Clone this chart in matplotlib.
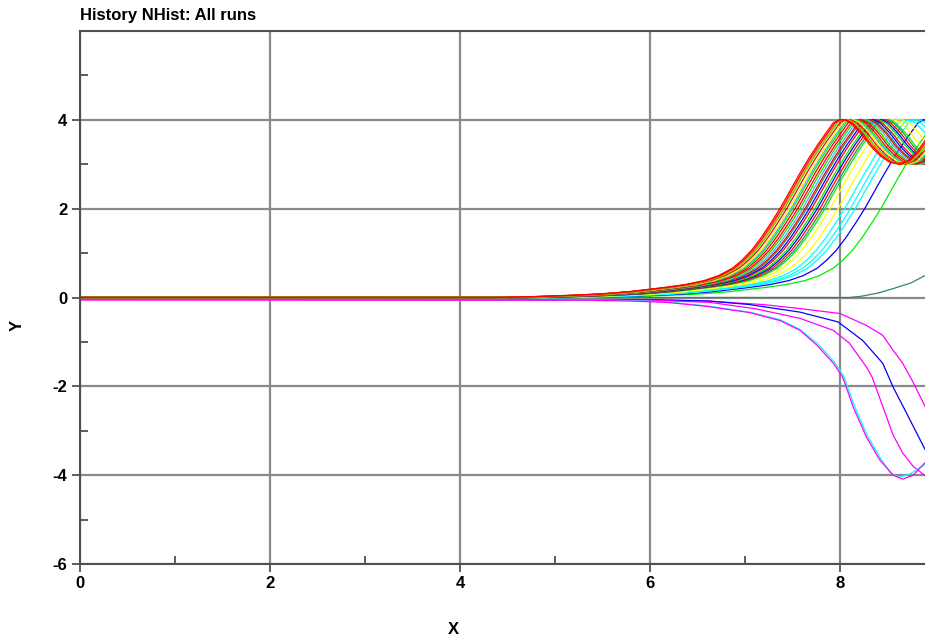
import matplotlib
matplotlib.use("Agg")
import matplotlib.pyplot as plt
import numpy as np
from matplotlib.ticker import MultipleLocator, FixedLocator

plt.rcParams['font.family'] = ['Liberation Sans', 'DejaVu Sans']
plt.rcParams['axes.unicode_minus'] = False

# ---------------- data ----------------
title = "History NHist: All runs"
x_label = "X"
y_label = "Y"

# common rising profile of the positive runs: offset from the y=2 crossing, and value
profile_dt = [-9.5, -3.0, -2.6, -2.2, -1.9, -1.6, -1.4, -1.2, -1.0, -0.8, -0.65,
              -0.5, -0.4, -0.3, -0.2, -0.1, 0.0, 0.1, 0.2, 0.3, 0.4, 0.5,
              0.56, 0.62, 0.68, 0.75, 0.85, 0.95, 1.05, 1.15, 1.25, 1.35, 1.45,
              1.55, 1.65, 1.75]
profile_y = [0.0, 0.0, 0.02, 0.05, 0.08, 0.13, 0.18, 0.23, 0.29, 0.38, 0.49,
             0.66, 0.84, 1.06, 1.34, 1.66, 2.0, 2.38, 2.76, 3.12, 3.45, 3.75,
             3.93, 4.0, 4.0, 3.92, 3.7, 3.42, 3.2, 3.05, 3.0, 3.08, 3.3,
             3.6, 3.9, 4.0]

# x position where each positive run crosses y = 2, and its colour
run_cross_x = [7.368, 7.386, 7.403, 7.414, 7.439, 7.466, 7.484, 7.502, 7.526, 7.555,
               7.579, 7.607, 7.632, 7.649, 7.677, 7.702, 7.737, 7.761, 7.789, 7.818,
               7.842, 7.895, 7.98, 8.05, 8.11, 8.16, 8.26, 8.43]
run_colors = ["#ff0000", "#ff0000", "#ff9900", "#00ee00", "#ff0000", "#ffff00",
              "#55aaff", "#00ee00", "#ff0000", "#ff0000", "#00ee00", "#55aaff",
              "#ff0000", "#2e8b57", "#0000ff", "#ff0000", "#00ee00", "#0000ff",
              "#ff0000", "#2e8b57", "#00ee00", "#ffff00", "#ffff00", "#00ffff",
              "#00ffff", "#00ffff", "#0000ff", "#00ee00"]

# slow dark-green run
slow_x = [0.0, 8.1, 8.23, 8.4, 8.56, 8.75, 8.9]
slow_y = [0.0, 0.0, 0.03, 0.1, 0.2, 0.33, 0.5]
slow_color = "#2e8b57"

# negative runs
neg1_x = [0.0, 5.0, 5.8, 6.18, 6.6, 7.05, 7.37, 7.58, 7.76, 7.93, 8.03, 8.14, 8.28,
          8.42, 8.56, 8.66, 8.77, 8.9]
neg1_y = [-0.05, -0.05, -0.08, -0.11, -0.2, -0.34, -0.52, -0.74, -1.08, -1.48, -1.8,
          -2.47, -3.15, -3.66, -4.0, -4.09, -4.0, -3.71]
neg2_x = [0.0, 5.0, 5.8, 6.18, 6.6, 7.05, 7.37, 7.58, 7.77, 7.94, 8.04, 8.15, 8.29,
          8.43, 8.53, 8.62, 8.74, 8.9]
neg2_y = [-0.04, -0.04, -0.07, -0.1, -0.19, -0.33, -0.5, -0.72, -1.05, -1.45, -1.77,
          -2.43, -3.12, -3.63, -3.95, -4.05, -3.97, -3.75]
neg3_x = [0.0, 6.0, 6.63, 7.1, 7.58, 7.93, 8.1, 8.28, 8.34, 8.45, 8.56, 8.66, 8.77, 8.9]
neg3_y = [-0.05, -0.06, -0.11, -0.25, -0.47, -0.74, -1.03, -1.57, -1.8, -2.45, -3.1,
          -3.5, -3.8, -4.02]
neg4_x = [0.0, 6.0, 6.63, 7.05, 7.58, 7.98, 8.24, 8.45, 8.56, 8.7, 8.9]
neg4_y = [-0.04, -0.05, -0.08, -0.16, -0.33, -0.55, -0.97, -1.48, -2.02, -2.6, -3.44]
neg5_x = [0.0, 6.0, 6.6, 7.2, 7.58, 8.0, 8.28, 8.45, 8.56, 8.66, 8.76, 8.9]
neg5_y = [-0.05, -0.05, -0.08, -0.16, -0.25, -0.36, -0.63, -0.85, -1.19, -1.48, -1.87, -2.47]
neg_series = [(neg5_x, neg5_y, "#ff00ff"), (neg4_x, neg4_y, "#0000ff"),
              (neg3_x, neg3_y, "#ff00ff"), (neg2_x, neg2_y, "#00ffff"),
              (neg1_x, neg1_y, "#ff00ff")]

x_limits = (0, 8.895)
y_limits = (-6, 6)
y_labeled_ticks = [-6, -4, -2, 0, 2, 4]

# ---------------- figure ----------------
W, H = 925, 638
fig = plt.figure(figsize=(W / 100, H / 100), dpi=100)
ax_left, ax_right, ax_top, ax_bottom = 80, 925, 31, 564
ax = fig.add_axes([ax_left / W, 1 - ax_bottom / H,
                   (ax_right - ax_left) / W, (ax_bottom - ax_top) / H])

lw = 0.9
ax.plot(slow_x, slow_y, color=slow_color, lw=lw)
for xs, ys, c in neg_series:
    ax.plot(xs, ys, color=c, lw=lw)
base_dt = np.array(profile_dt)
for cx, c in reversed(list(zip(run_cross_x, run_colors))):
    ax.plot(base_dt + cx, profile_y, color=c, lw=lw)

ax.set_xlim(*x_limits)
ax.set_ylim(*y_limits)

ax.xaxis.set_major_locator(MultipleLocator(2))
ax.xaxis.set_minor_locator(MultipleLocator(1))
ax.yaxis.set_major_locator(FixedLocator(y_labeled_ticks))
ax.yaxis.set_minor_locator(FixedLocator([-5, -3, -1, 1, 3, 5]))

ax.grid(True, which='major', color='#8a8a8a', lw=1.6)
ax.set_axisbelow(True)

spine_c = '#505050'
for s in ['left', 'bottom', 'top']:
    ax.spines[s].set_color(spine_c)
    ax.spines[s].set_linewidth(1.5)
ax.spines['right'].set_visible(False)

ax.tick_params(which='major', direction='out', length=6, width=1.3, color=spine_c,
               labelsize=12, pad=3)
ax.tick_params(which='minor', direction='in', length=6, width=1.3, color=spine_c)
ax.tick_params(top=False, right=False, which='both')
for lab in ax.get_xticklabels() + ax.get_yticklabels():
    lab.set_fontweight('bold')

ax.set_xlabel(x_label, fontsize=12, fontweight='bold')
ax.xaxis.set_label_coords((453.5 - ax_left) / (ax_right - ax_left),
                          (ax_bottom - 622) / (ax_bottom - ax_top))
ax.set_ylabel(y_label, fontsize=12, fontweight='bold')
ax.yaxis.set_label_coords((25 - ax_left) / (ax_right - ax_left),
                          (ax_bottom - 325) / (ax_bottom - ax_top))

fig.text(ax_left / W, 1 - 20 / H, title, fontsize=12, fontweight='bold',
         ha='left', va='baseline')

fig.savefig("out.png", dpi=100)
